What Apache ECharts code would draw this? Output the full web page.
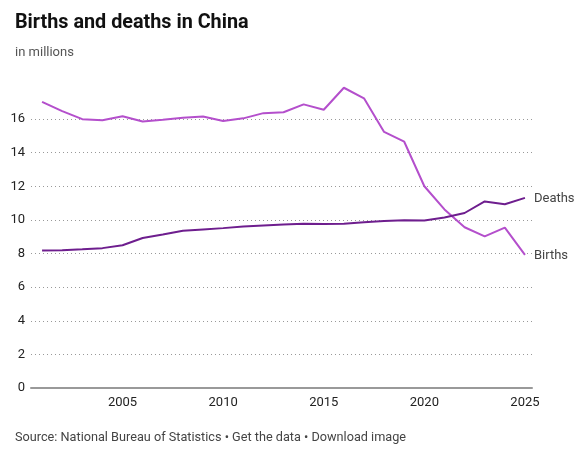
<!DOCTYPE html>
<html>
<head>
<meta charset="utf-8">
<script src="https://cdn.jsdelivr.net/npm/echarts@6/dist/echarts.min.js"></script>
<style>html,body{margin:0;padding:0;background:#fff}#c{width:583px;height:450px}</style>
</head>
<body>
<div id="c"></div>
<script>
const years = [2001,2002,2003,2004,2005,2006,2007,2008,2009,2010,2011,2012,2013,2014,2015,2016,2017,2018,2019,2020,2021,2022,2023,2024,2025];
const births = [17.02,16.47,15.99,15.93,16.17,15.85,15.95,16.08,16.15,15.88,16.04,16.35,16.40,16.87,16.55,17.86,17.23,15.23,14.65,12.00,10.62,9.56,9.02,9.54,7.92];
const deaths = [8.18,8.20,8.25,8.32,8.49,8.92,9.13,9.35,9.43,9.51,9.60,9.66,9.72,9.77,9.75,9.77,9.86,9.93,9.98,9.97,10.14,10.41,11.10,10.93,11.31];
const xTicks = [2005,2010,2015,2020,2025];
const yTicks = [0,2,4,6,8,10,12,14,16];

const chart = echarts.init(document.getElementById('c'), null, {renderer:'canvas'});
const font = 'Roboto, "Noto Sans", sans-serif';
const pair = arr => years.map((y,i)=>[y,arr[i]]);
chart.setOption({
  animation:false,
  backgroundColor:'#fff',
  textStyle:{fontFamily:font},
  title:[
    {text:'Births and deaths in China',left:10,top:8,textStyle:{fontFamily:font,fontSize:19.8,fontWeight:'bold',color:'#111'}},
    {text:'in millions',left:10,top:41,textStyle:{fontFamily:font,fontSize:13,fontWeight:'normal',color:'#555'}},
    {text:'Source: National Bureau of Statistics • Get the data • Download image',left:10,top:426,textStyle:{fontFamily:font,fontSize:12.7,fontWeight:'normal',color:'#444'}}
  ],
  grid:{left:31,right:51,top:85.4,bottom:62,containLabel:false},
  xAxis:{type:'value',min:2000.45,max:2025.35,
    axisLine:{show:true,lineStyle:{color:'#999',width:2}},
    axisTick:{show:false},splitLine:{show:false},
    axisLabel:{customValues:xTicks,color:'#222',fontSize:13,margin:8,formatter:v=>String(v)}},
  yAxis:{type:'value',min:0,max:18,interval:2,
    axisLine:{show:false},axisTick:{show:false},
    axisLabel:{customValues:yTicks,color:'#222',fontSize:13,margin:6},
    splitLine:{show:true,lineStyle:{type:[1,3],color:['#999','#999','#999','#999','#999','#999','#999','#999','#999','rgba(0,0,0,0)']}}},
  series:[
    {name:'Births',type:'line',data:pair(births),showSymbol:false,lineStyle:{color:'#b44fcc',width:2},itemStyle:{color:'#b44fcc'},
      endLabel:{show:true,formatter:'{a}',color:'#444',fontSize:13,distance:9,offset:[0,1],fontFamily:font}},
    {name:'Deaths',type:'line',data:pair(deaths),showSymbol:false,lineStyle:{color:'#6e1e8e',width:2},itemStyle:{color:'#6e1e8e'},
      endLabel:{show:true,formatter:'{a}',color:'#444',fontSize:13,distance:9,offset:[0,1],fontFamily:font}}
  ]
});
</script>
</body>
</html>
